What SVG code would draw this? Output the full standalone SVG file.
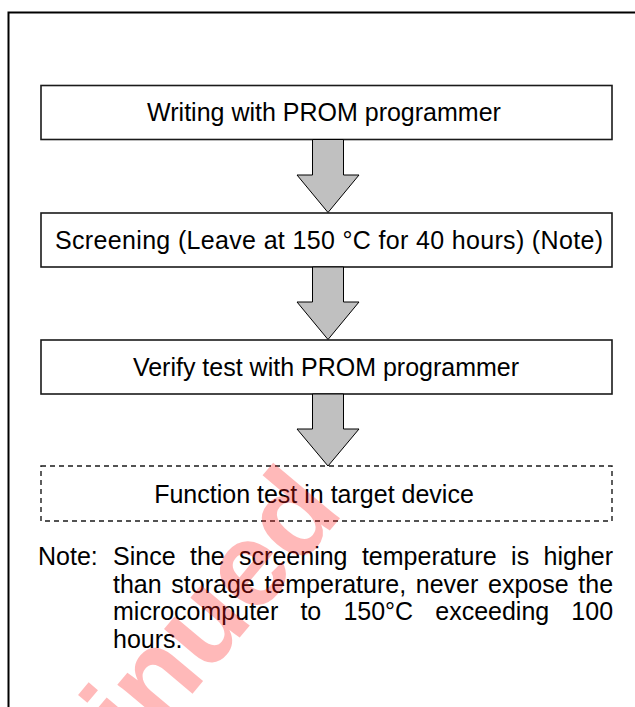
<svg xmlns="http://www.w3.org/2000/svg" width="635" height="707" viewBox="0 0 635 707">
<style>
.box{fill:#fff;stroke:#1a1a1a;stroke-width:1.6}
.dash{fill:none;stroke:#1a1a1a;stroke-width:1.4;stroke-dasharray:5 4}
.arr{fill:#c0c0c0;stroke:#000;stroke-width:1}
.t{font-family:"Liberation Sans",Arial,sans-serif;font-size:25px;fill:#000}
.wm{font-family:"Liberation Sans",Arial,sans-serif;font-size:120px;font-weight:bold;fill:#ff1a1a;opacity:0.3}
</style>
<rect width="635" height="707" fill="#fff"/>
<path d="M8.5,707 V12.5 H635" fill="none" stroke="#000" stroke-width="2"/>
<g id="n1"><rect class="box" x="41" y="85.5" width="571" height="54"/><text class="t" x="324" y="121" text-anchor="middle">Writing with PROM programmer</text></g>
<g id="n2"><rect class="box" x="41" y="213" width="571" height="54"/><text class="t" x="55" y="248.5" textLength="548" lengthAdjust="spacing">Screening (Leave at 150 °C for 40 hours) (Note)</text></g>
<g id="n3"><rect class="box" x="41" y="340" width="571" height="54"/><text class="t" x="326" y="376" text-anchor="middle">Verify test with PROM programmer</text></g>
<g id="n4"><rect class="dash" x="41" y="466" width="571" height="55"/><text class="t" x="314" y="503" text-anchor="middle">Function test in target device</text></g>
<g id="connectors">
<polygon class="arr" points="312.5,139.5 343.5,139.5 343.5,175 359,175 328,212.5 297,175 312.5,175"/>
<polygon class="arr" points="312.5,267 343.5,267 343.5,302 359,302 328,339.5 297,302 312.5,302"/>
<polygon class="arr" points="312.5,394 343.5,394 343.5,429 359,429 328,466 297,429 312.5,429"/>
</g>
<g id="note">
<text class="t" x="38" y="565">Note:</text>
<text class="t" x="113" y="565" word-spacing="7.46">Since the screening temperature is higher</text>
<text class="t" x="113" y="592.5" word-spacing="2.73">than storage temperature, never expose the</text>
<text class="t" x="113" y="620" word-spacing="15.16">microcomputer to 150°C exceeding 100</text>
<text class="t" x="113" y="647.5">hours.</text>
</g>
<text class="wm" x="345" y="512" text-anchor="end" transform="rotate(-50 345 512)">Discontinued</text>
</svg>
